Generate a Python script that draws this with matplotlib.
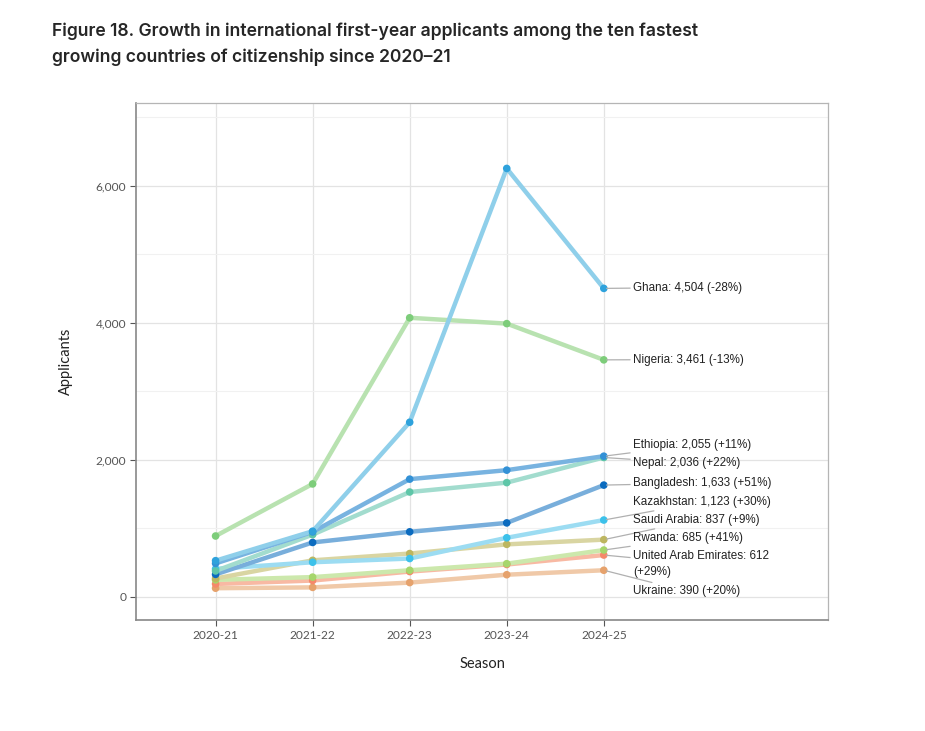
import matplotlib
matplotlib.use("Agg")
import matplotlib.pyplot as plt
from matplotlib.ticker import FuncFormatter, MultipleLocator

seasons = ["2020-21", "2021-22", "2022-23", "2023-24", "2024-25"]

ghana      = [530, 960, 2550, 6255, 4504]
nigeria    = [890, 1650, 4075, 3990, 3461]
ethiopia   = [490, 950, 1720, 1851, 2055]
nepal      = [380, 910, 1532, 1669, 2036]
bangladesh = [330, 796, 951, 1081, 1633]
kazakhstan = [410, 507, 561, 864, 1123]
saudi      = [270, 535, 634, 768, 837]
rwanda     = [250, 290, 390, 486, 685]
uae        = [190, 240, 371, 474, 612]
ukraine    = [128, 140, 210, 325, 390]

labels = ["Ghana: 4,504 (-28%)", "Nigeria: 3,461 (-13%)", "Ethiopia: 2,055 (+11%)",
          "Nepal: 2,036 (+22%)", "Bangladesh: 1,633 (+51%)", "Kazakhstan: 1,123 (+30%)",
          "Saudi Arabia: 837 (+9%)", "Rwanda: 685 (+41%)",
          "United Arab Emirates: 612\n(+29%)", "Ukraine: 390 (+20%)"]

series = [ghana, nigeria, ethiopia, nepal, bangladesh, kazakhstan, saudi, rwanda, uae, ukraine]
point_colors = ["#2ea2dc", "#7dcd7a", "#3391d6", "#5ec6a8", "#0b6bbf", "#3cc1ea",
                "#bdb660", "#a6d66c", "#f5896a", "#e6a26c"]
line_colors = ["#8fcfea", "#b8e2b0", "#78b3e0", "#a2dcce", "#78aedb", "#9cdcf2",
               "#d9d5a2", "#cce8ac", "#f8b9a3", "#f0c9a8"]
# label vertical positions (layout, in data units)
label_y = [4516, 3465, 2217, 1956, 1663, 1385, 1122, 858, 478, 83]

fig = plt.figure(figsize=(9.25, 7.31), dpi=100)
ax = fig.add_axes([136/925, 1 - 620/731, (828-136)/925, (620-103)/731])

x = list(range(len(seasons)))
draw_order = [9, 8, 7, 6, 5, 4, 3, 2, 1, 0]
for i in draw_order:
    ax.plot(x, series[i], color=line_colors[i], lw=3.2, solid_capstyle="round", zorder=2 + (10 - i) * 0.01)
for i in draw_order:
    ax.scatter(x, series[i], color=point_colors[i], s=30, zorder=3, edgecolors="none")

for i, lab in enumerate(labels):
    ax.annotate(lab, xy=(x[-1], series[i][-1]), xytext=(4.30, label_y[i]),
                textcoords="data", ha="left", va="center", fontsize=8.4,
                family="Liberation Sans", color="#222222", linespacing=1.5,
                arrowprops=dict(arrowstyle="-", color="#b0b0b0", lw=0.9,
                                shrinkA=0, shrinkB=2))

ax.set_xlim(-0.82, 6.31)
ax.set_ylim(-336, 7210)
ax.set_xticks(x)
ax.set_xticklabels(seasons)
ax.yaxis.set_major_locator(MultipleLocator(2000))
ax.yaxis.set_minor_locator(MultipleLocator(1000))
ax.yaxis.set_major_formatter(FuncFormatter(lambda v, p: f"{int(v):,}"))
ax.grid(True, which="major", color="#e3e3e3", lw=0.9)
ax.grid(True, which="minor", axis="y", color="#f1f1f1", lw=0.8)
ax.set_axisbelow(True)
ax.tick_params(axis="both", which="major", labelsize=8.6, colors="#555555", length=4, width=0.8, pad=3)
ax.tick_params(axis="y", which="minor", length=0)
for t in ax.get_xticklabels() + ax.get_yticklabels():
    t.set_family("Lato")
    t.set_color("#555555")

for s in ["top", "right"]:
    ax.spines[s].set_color("#b5b5b5")
    ax.spines[s].set_linewidth(0.9)
for s in ["left", "bottom"]:
    ax.spines[s].set_color("#888888")
    ax.spines[s].set_linewidth(1.2)

ax.set_ylabel("Applicants", fontsize=10.5, family="Lato", color="#222222", labelpad=16)
ax.set_xlabel("Season", fontsize=10.5, family="Lato", color="#222222", labelpad=12)

fig.text(52/925, 1 - 44/731, "Figure 18. Growth in international first-year applicants among the ten fastest\ngrowing countries of citizenship since 2020\u201321",
         fontsize=12.65, fontweight="semibold", family="Inter", color="#262626",
         ha="left", va="center", linespacing=1.6)

fig.savefig("out.png", dpi=100)
